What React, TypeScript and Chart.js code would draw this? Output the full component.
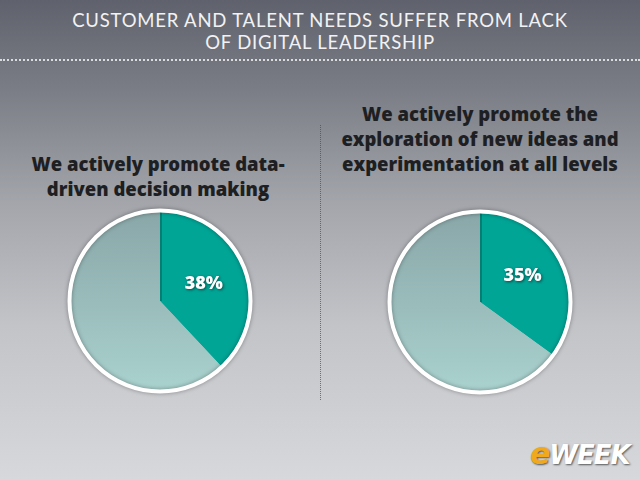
import React, { useEffect, useRef } from "react";
import { Chart, registerables } from "chart.js";

Chart.register(...registerables);

const TITLE_LINES = ["CUSTOMER AND TALENT NEEDS SUFFER FROM LACK", "OF DIGITAL LEADERSHIP"];
const SLICE_LABELS = ["Yes", "Other"];
const LEFT_HEADING = ["We actively promote data-", "driven decision making"];
const LEFT_VALUES = [38, 62];
const RIGHT_HEADING = ["We actively promote the", "exploration of new ideas and", "experimentation at all levels"];
const RIGHT_VALUES = [35, 65];

const TEAL = "#00a596";

function PieChart({ values, left, top, labelDist, angleShift }: { values: number[]; left: number; top: number; labelDist: number; angleShift: number }) {
  const ref = useRef<HTMLCanvasElement | null>(null);
  useEffect(() => {
    if (!ref.current) return;
    const ringPlugin = {
      id: "ring",
      afterDatasetsDraw(chart: any) {
        const ctx = chart.ctx;
        const arc = chart.getDatasetMeta(0).data[0];
        const { x, y, outerRadius } = arc.getProps(["x", "y", "outerRadius"], true);
        ctx.save();
        ctx.strokeStyle = "rgba(0,60,55,0.35)";
        ctx.lineWidth = 2;
        ctx.beginPath();
        ctx.moveTo(x + 1, y);
        ctx.lineTo(x + 1, y - outerRadius);
        ctx.stroke();
        ctx.restore();
        ctx.save();
        ctx.shadowColor = "rgba(0,0,0,0.35)";
        ctx.shadowBlur = 4;
        ctx.strokeStyle = "#ffffff";
        ctx.lineWidth = 4;
        ctx.beginPath();
        ctx.arc(x, y, outerRadius + 1.5, 0, Math.PI * 2);
        ctx.stroke();
        ctx.restore();
        const { startAngle, endAngle } = arc.getProps(["startAngle", "endAngle"], true);
        const mid = (startAngle + endAngle) / 2 + angleShift;
        const r = outerRadius * labelDist;
        const lx = x + Math.cos(mid) * r;
        const ly = y + Math.sin(mid) * r;
        ctx.save();
        ctx.font = "800 18px 'Open Sans', sans-serif";
        ctx.textAlign = "center";
        ctx.textBaseline = "middle";
        ctx.shadowColor = "rgba(0,0,0,0.55)";
        ctx.shadowBlur = 3;
        ctx.shadowOffsetX = 1;
        ctx.shadowOffsetY = 1;
        ctx.fillStyle = "#ffffff";
        ctx.fillText(values[0] + "%", lx, ly);
        ctx.restore();
      },
    };
    const chart = new Chart(ref.current, {
      type: "pie",
      data: {
        labels: SLICE_LABELS,
        datasets: [
          {
            data: values,
            borderWidth: 0,
            backgroundColor: (c: any) => {
              if (c.dataIndex === 0) return TEAL;
              const area = c.chart.chartArea;
              if (!area) return "#9cbcbc";
              const g = c.chart.ctx.createLinearGradient(0, area.top, 0, area.bottom);
              g.addColorStop(0, "#88a4a6");
              g.addColorStop(1, "#abd4d0");
              return g;
            },
          },
        ],
      },
      options: {
        animation: false,
        responsive: false,
        radius: 89,
        layout: { padding: 0 },
        plugins: { legend: { display: false }, tooltip: { enabled: false } },
      },
      plugins: [ringPlugin],
    });
    return () => chart.destroy();
  }, []);
  return (
    <canvas
      ref={ref}
      width={200}
      height={200}
      style={{ position: "absolute", left, top, width: 200, height: 200 }}
    />
  );
}

export default function App() {
  const headingStyle: React.CSSProperties = {
    position: "absolute",
    width: 300,
    textAlign: "center",
    fontFamily: "'Open Sans', sans-serif",
    fontWeight: 800,
    fontSize: 18.5,
    lineHeight: "25px",
    color: "#1e1f22",
  };
  return (
    <div
      style={{
        position: "fixed",
        left: 0,
        top: 0,
        width: 640,
        height: 480,
        overflow: "hidden",
        background: "linear-gradient(to bottom, #5f626c 0%, #7a7c85 18%, #a3a5ab 42%, #c3c4c8 68%, #d7d8db 100%)",
      }}
    >
      <div
        style={{
          position: "absolute",
          left: 0,
          top: 9,
          width: 640,
          textAlign: "center",
          fontFamily: "Lato, sans-serif",
          fontWeight: 400,
          fontSize: 18.5,
          lineHeight: "22px",
          letterSpacing: 0.8,
          color: "#f2f2f4",
        }}
      >
        {TITLE_LINES.map((t) => (
          <div key={t}>{t}</div>
        ))}
      </div>
      <div
        style={{
          position: "absolute",
          left: 0,
          top: 59,
          width: 640,
          borderTop: "2px dotted rgba(255,255,255,0.75)",
        }}
      />
      <div
        style={{
          position: "absolute",
          left: 320,
          top: 125,
          height: 275,
          borderLeft: "1px dotted rgba(70,72,80,0.7)",
        }}
      />
      <div style={{ ...headingStyle, left: 8, top: 151 }}>
        {LEFT_HEADING.map((t) => (
          <div key={t}>{t}</div>
        ))}
      </div>
      <div style={{ ...headingStyle, left: 330, top: 101 }}>
        {RIGHT_HEADING.map((t) => (
          <div key={t}>{t}</div>
        ))}
      </div>
      <PieChart values={LEFT_VALUES} left={60} top={201} labelDist={0.53} angleShift={0} />
      <PieChart values={RIGHT_VALUES} left={380} top={202} labelDist={0.56} angleShift={-0.08} />
      <div
        style={{
          position: "absolute",
          left: 530,
          top: 436,
          fontFamily: "'DejaVu Sans', sans-serif",
          fontWeight: 800,
          fontStyle: "italic",
          fontSize: 26,
          letterSpacing: -1,
          textShadow: "1px 1px 2px rgba(0,0,0,0.6)",
        }}
      >
        <span style={{ color: "#f0a81c", fontSize: 30 }}>e</span>
        <span style={{ color: "#ffffff" }}>WEEK</span>
      </div>
    </div>
  );
}
